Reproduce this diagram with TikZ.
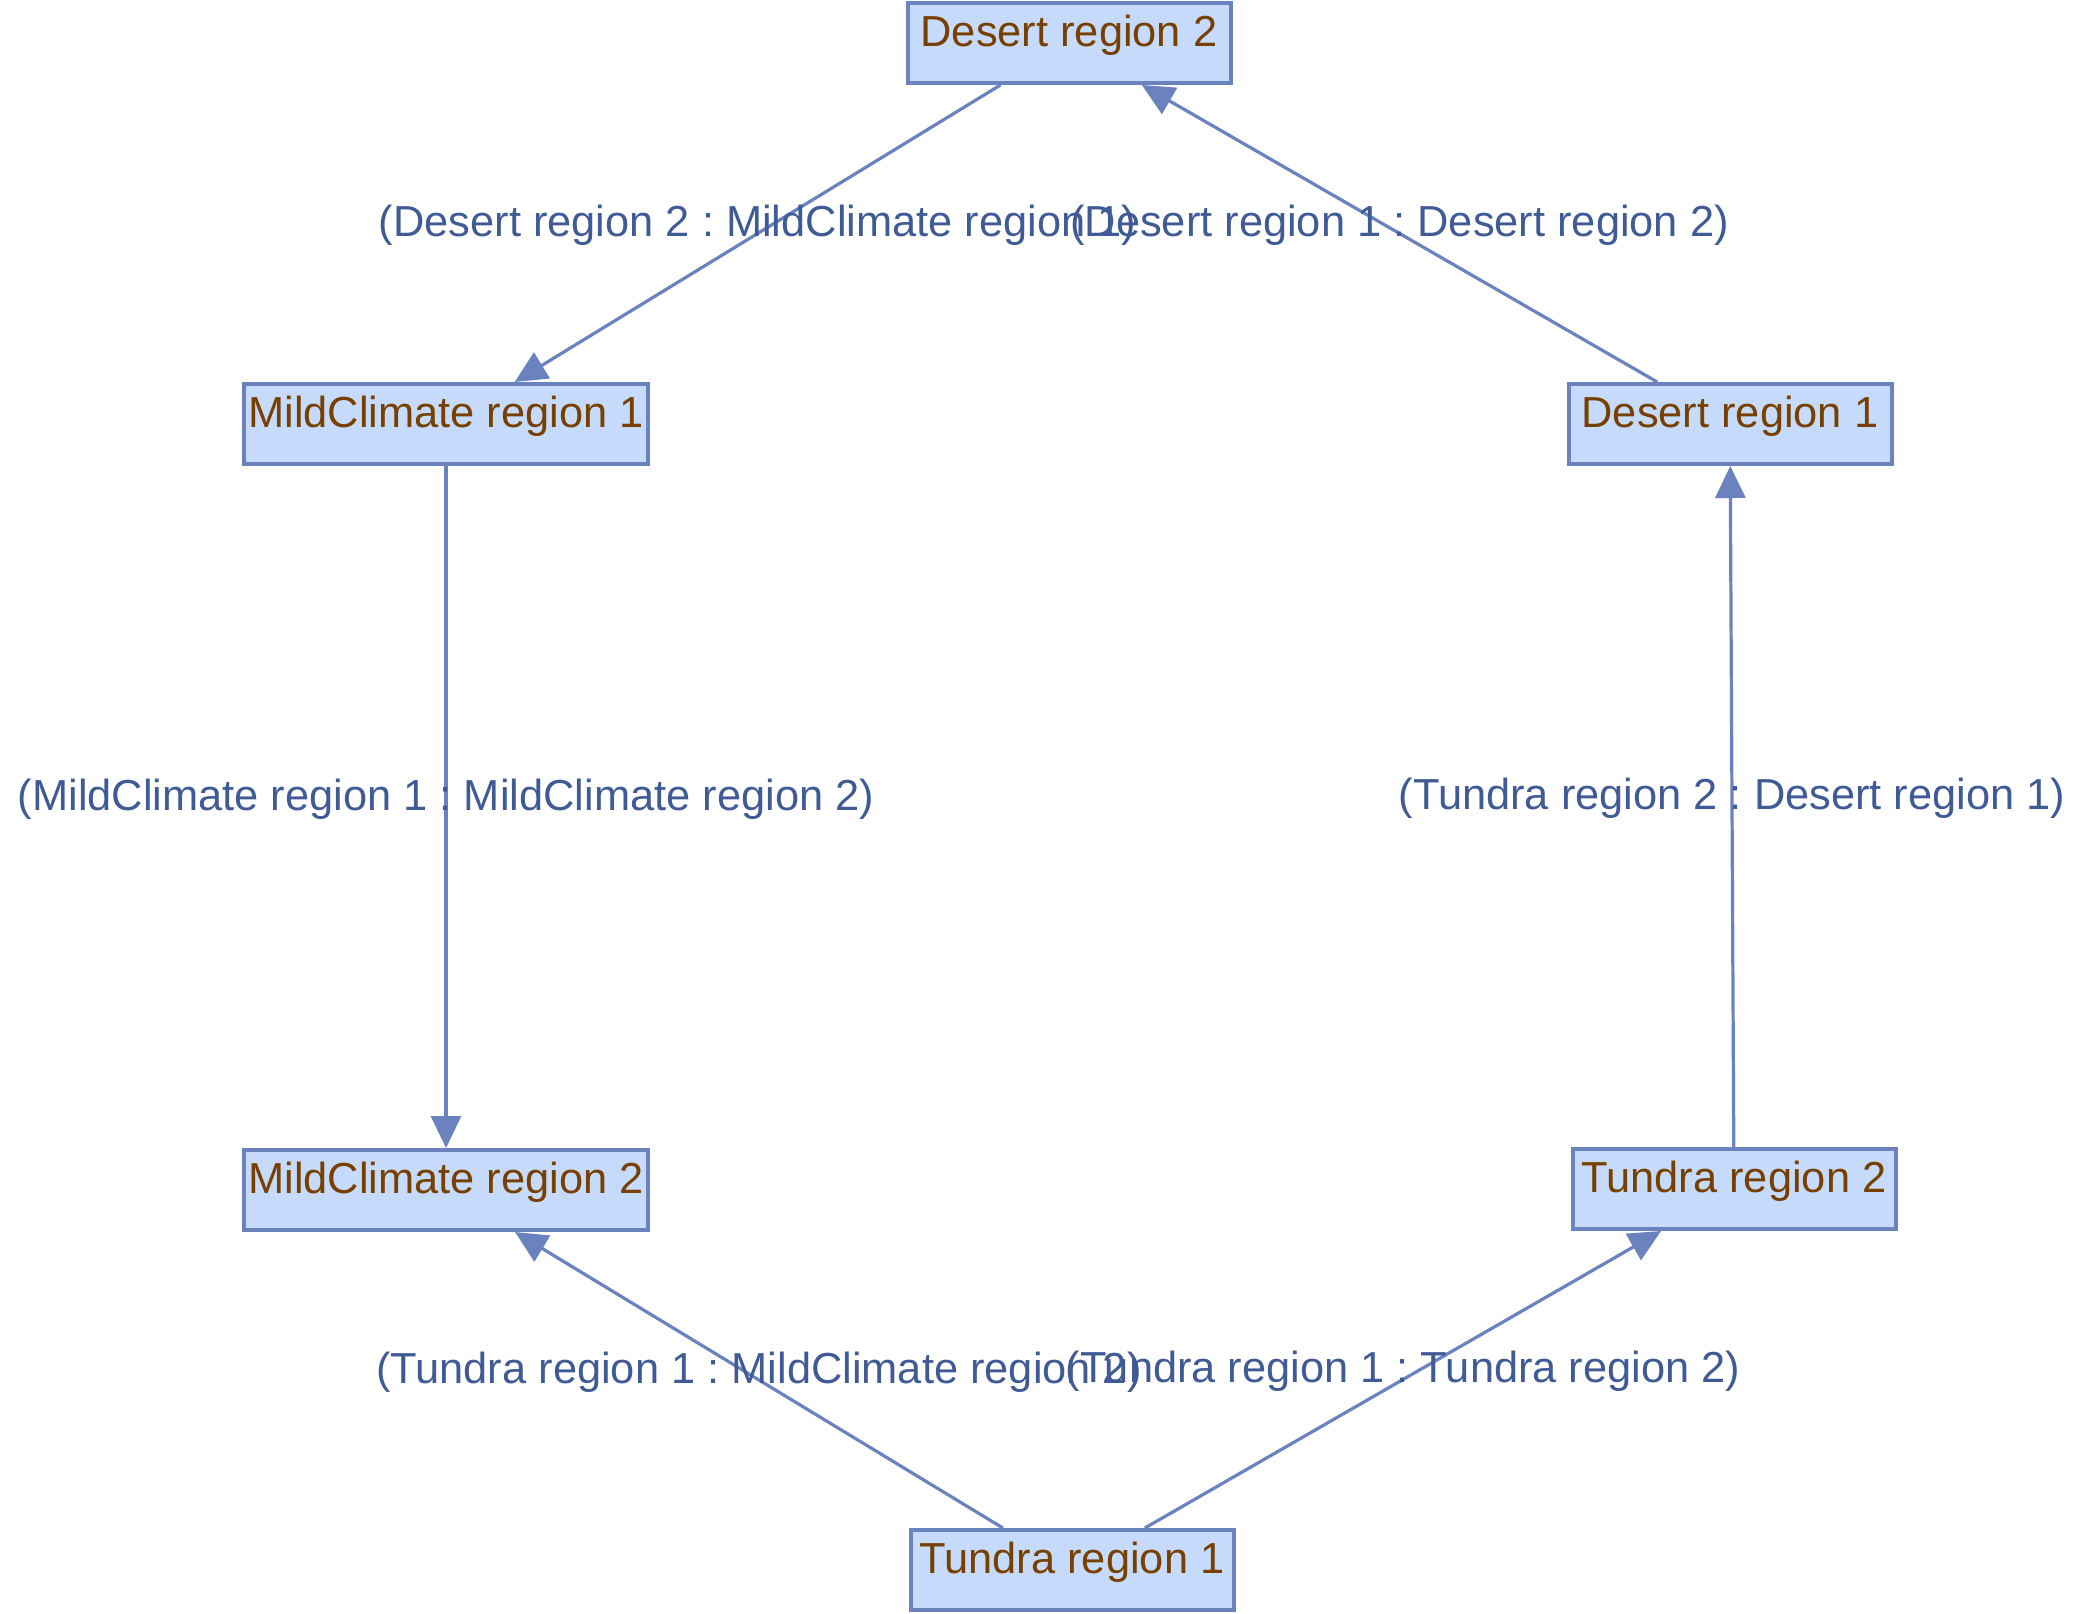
\documentclass[tikz,border=0pt]{standalone}
\usepackage{fontspec}
\setmainfont{Liberation Sans}
\usepackage{tikz}
\usetikzlibrary{shapes,arrows.meta}
\frenchspacing

\definecolor{boxfill}{RGB}{198,219,252}
\definecolor{boxline}{RGB}{106,131,190}
\definecolor{boxtext}{RGB}{119,64,0}
\definecolor{labeltext}{RGB}{64,90,150}

\begin{document}
\begin{tikzpicture}[x=0.5pt,y=-0.5pt,
    region_box/.style ={rectangle, draw=boxline, line width=2pt, fill=boxfill,
      text=boxtext, font=\fontsize{21.7}{26}\selectfont, minimum width=161.5pt,
      inner xsep=2pt, inner ysep=0pt, text height=21.5pt, text depth=18.5pt},
    edge_label/.style ={draw=none, fill=none, text=labeltext,
      font=\fontsize{21.7}{26}\selectfont, inner sep=0pt, yshift=4pt},
    line/.style ={draw=boxline, line width=1.6pt,
      -{Triangle[length=16pt,width=15pt]}, shorten >=0pt}]
    % frame of the picture
    \useasboundingbox (0,0) rectangle (2081,1613);
    % regions - top row
    \node [region_box] (desert2) at (1069,43) {Desert region 2};
    % regions - second row
    \node [region_box] (mild1) at (446,424) {MildClimate region 1};
    \node [region_box] (desert1) at (1730,424) {Desert region 1};
    % regions - third row
    \node [region_box] (mild2) at (446,1190) {MildClimate region 2};
    \node [region_box] (tundra2) at (1734,1189) {Tundra region 2};
    % regions - bottom row
    \node [region_box] (tundra1) at (1072,1570) {Tundra region 1};
    % connecting nodes with paths
    \begin{scope}[every path/.style=line]
      \path (desert2) -- node[edge_label] {(Desert region 2 : MildClimate region 1)} (mild1);
      \path (desert1) -- node[edge_label] {(Desert region 1 : Desert region 2)} (desert2);
      \path (mild1) -- node[edge_label] {(MildClimate region 1 : MildClimate region 2)} (mild2);
      \path (tundra2) -- node[edge_label] {(Tundra region 2 : Desert region 1)} (desert1);
      \path (tundra1) -- node[edge_label] {(Tundra region 1 : MildClimate region 2)} (mild2);
      \path (tundra1) -- node[edge_label] {(Tundra region 1 : Tundra region 2)} (tundra2);
    \end{scope}
  \end{tikzpicture}
\end{document}
